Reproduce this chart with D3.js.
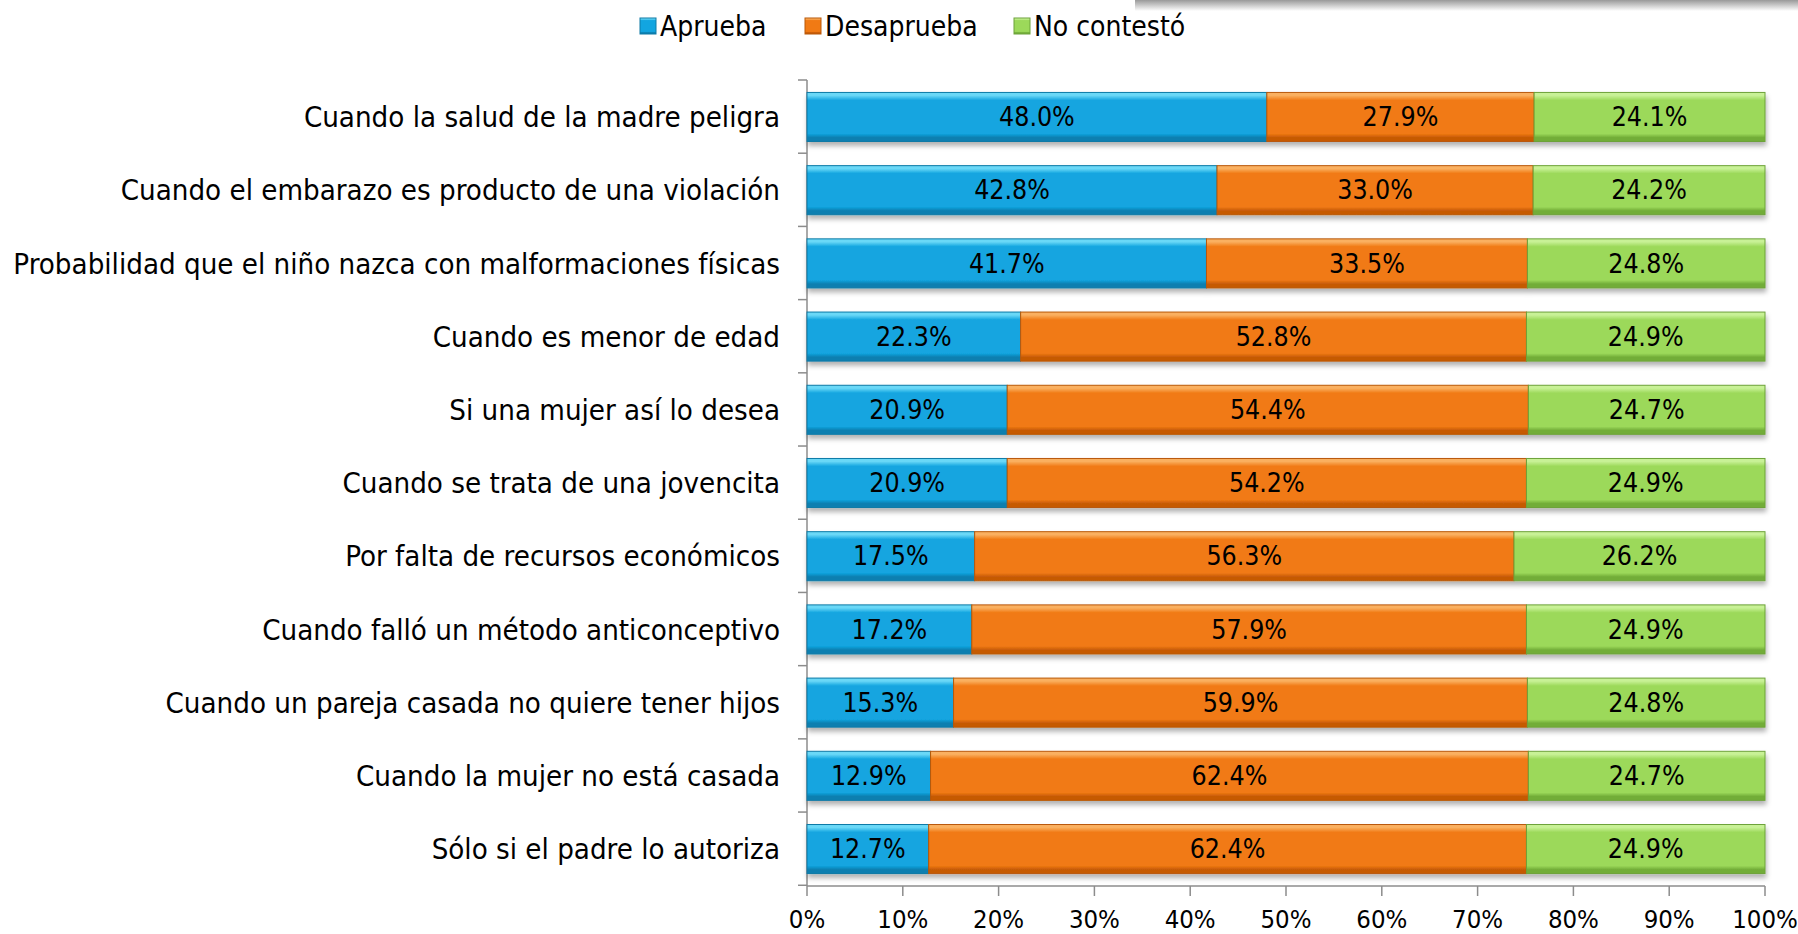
<!DOCTYPE html>
<html>
<head>
<meta charset="utf-8">
<script src="https://cdn.jsdelivr.net/npm/d3@7"></script>
<style>
  body{margin:0;background:#fff;}
  svg{display:block;font-family:"DejaVu Sans Condensed","DejaVu Sans",sans-serif;}
</style>
</head>
<body>
<div id="chart"></div>
<script>
// Opinión sobre el aborto — barras apiladas al 100%
const categories = [
  'Cuando la salud de la madre peligra',
  'Cuando el embarazo es producto de una violación',
  'Probabilidad que el niño nazca con malformaciones físicas',
  'Cuando es menor de edad',
  'Si una mujer así lo desea',
  'Cuando se trata de una jovencita',
  'Por falta de recursos económicos',
  'Cuando falló un método anticonceptivo',
  'Cuando un pareja casada no quiere tener hijos',
  'Cuando la mujer no está casada',
  'Sólo si el padre lo autoriza'
];
const aprueba     = [48.0, 42.8, 41.7, 22.3, 20.9, 20.9, 17.5, 17.2, 15.3, 12.9, 12.7];
const desaprueba  = [27.9, 33.0, 33.5, 52.8, 54.4, 54.2, 56.3, 57.9, 59.9, 62.4, 62.4];
const noContesto  = [24.1, 24.2, 24.8, 24.9, 24.7, 24.9, 26.2, 24.9, 24.8, 24.7, 24.9];
const seriesNames = ['Aprueba', 'Desaprueba', 'No contestó'];
const xTicks = [0,10,20,30,40,50,60,70,80,90,100];

const pal = [
  {top:'#6ad8f7', mid:'#12a5e0', bot:'#0b7fb0', edge:'#0e7aa6'},
  {top:'#fab060', mid:'#f17a14', bot:'#c65a06', edge:'#b95808'},
  {top:'#c8f196', mid:'#9cd95a', bot:'#72ad38', edge:'#6da23a'}
];

const W = 1798, H = 934, m = {t:80, r:33, b:48, l:807};
const svg = d3.select('#chart').append('svg').attr('width',W).attr('height',H);
const defs = svg.append('defs');

// sombra superior derecha (borde de otro objeto)
const sg = defs.append('linearGradient').attr('id','topShade').attr('x1',0).attr('y1',0).attr('x2',0).attr('y2',1);
sg.append('stop').attr('offset','0%').attr('stop-color','#999');
sg.append('stop').attr('offset','100%').attr('stop-color','#fff');
svg.append('rect').attr('x',1135).attr('y',0).attr('width',W-1135).attr('height',11).attr('fill','url(#topShade)');

pal.forEach((p,i)=>{
  const g = defs.append('linearGradient').attr('id','grad'+i).attr('x1',0).attr('y1',0).attr('x2',0).attr('y2',1);
  [[0,p.top],[0.06,p.top],[0.16,p.mid],[0.84,p.mid],[0.92,p.bot],[1,p.bot]].forEach(([o,c])=>
    g.append('stop').attr('offset',o).attr('stop-color',c));
});
const f = defs.append('filter').attr('id','shadow').attr('x','-5%').attr('y','-20%').attr('width','110%').attr('height','160%');
f.append('feDropShadow').attr('dx',1).attr('dy',4).attr('stdDeviation',2.5).attr('flood-color','#000').attr('flood-opacity',0.3);

const iw = W - m.l - m.r, ih = H - m.t - m.b;
const g = svg.append('g').attr('transform',`translate(${m.l},${m.t})`);
const x = d3.scaleLinear().domain([0,100]).range([0,iw]);
const y = d3.scaleBand().domain(categories).range([0,ih]).paddingInner(0.33).paddingOuter(0.17);

// ejes
const yAxis = g.append('g');
yAxis.append('line').attr('x1',0).attr('x2',0).attr('y1',0).attr('y2',ih).attr('stroke','#8c8c8c').attr('stroke-width',1.5);
const step = y.step();
d3.range(categories.length+1).forEach(i=>{
  yAxis.append('line').attr('x1',-9).attr('x2',0).attr('y1',i*step).attr('y2',i*step).attr('stroke','#8c8c8c').attr('stroke-width',1.5);
});
yAxis.selectAll('text.cat').data(categories).join('text').attr('class','cat')
  .attr('x',-27).attr('y',d=>y(d)+y.bandwidth()/2).attr('dy','0.35em')
  .attr('text-anchor','end').attr('font-size',29.2).attr('fill','#000').text(d=>d);

const xAxis = g.append('g').attr('transform',`translate(0,${ih})`);
xAxis.append('line').attr('x1',0).attr('x2',iw).attr('stroke','#8c8c8c').attr('stroke-width',1.5);
xAxis.selectAll('line.tk').data(xTicks).join('line').attr('class','tk')
  .attr('x1',d=>x(d)).attr('x2',d=>x(d)).attr('y1',0).attr('y2',10).attr('stroke','#8c8c8c').attr('stroke-width',1.5);
xAxis.selectAll('text').data(xTicks).join('text')
  .attr('x',d=>x(d)).attr('y',33).attr('dy','0.35em').attr('text-anchor','middle')
  .attr('font-size',25.5).attr('fill','#000').text(d=>d+'%');

// barras
const vals = [aprueba, desaprueba, noContesto];
categories.forEach((c,ci)=>{
  let acc = 0;
  const row = g.append('g').attr('filter','url(#shadow)');
  vals.forEach((s,si)=>{
    const v = s[ci], x0 = x(acc), x1 = x(acc+v);
    row.append('rect').attr('x',x0).attr('y',y(c)).attr('width',x1-x0).attr('height',y.bandwidth())
      .attr('fill',`url(#grad${si})`).attr('stroke',pal[si].edge).attr('stroke-width',1);
    acc += v;
  });
  acc = 0;
  vals.forEach((s,si)=>{
    const v = s[ci];
    g.append('text').attr('x',x(acc+v/2)).attr('y',y(c)+y.bandwidth()/2).attr('dy','0.35em')
      .attr('text-anchor','middle').attr('font-size',26.5).attr('fill','#000').text(v.toFixed(1)+'%');
    acc += v;
  });
});

// leyenda
const lg = svg.append('g').attr('transform','translate(640,26)');
const legX = [0, 165, 374];
seriesNames.forEach((n,i)=>{
  const it = lg.append('g').attr('transform',`translate(${legX[i]},0)`);
  it.append('rect').attr('x',0).attr('y',-8).attr('width',16).attr('height',16)
    .attr('fill',`url(#grad${i})`).attr('stroke',pal[i].edge);
  it.append('text').attr('x',20).attr('dy','0.35em').attr('font-size',28).attr('fill','#000').text(n);
});
</script>
</body>
</html>
